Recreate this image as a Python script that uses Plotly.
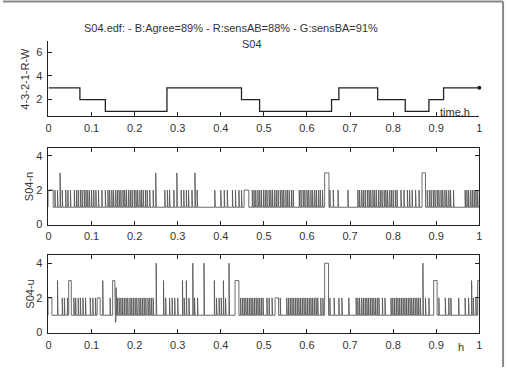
import plotly.graph_objects as go

# ---------------- data ----------------
# Top panel: hypnogram steps (start of each step, level)
hyp_x = [0.0, 0.073, 0.132, 0.275, 0.448, 0.490, 0.657, 0.674, 0.764, 0.828, 0.883, 0.917, 1.0]
hyp_y = [3, 2, 1, 3, 2, 1, 2, 3, 2, 1, 2, 3, 3]

# Panel S04-n : thin spikes by level, plus wider boxes (start, end, level)
n_spikes2 = [0.015, 0.021, 0.032, 0.040, 0.045, 0.051,
             0.060, 0.065, 0.069, 0.074, 0.078, 0.083, 0.087, 0.091, 0.095,
             0.100, 0.105, 0.110, 0.116, 0.124, 0.132,
             0.138, 0.142, 0.147, 0.151, 0.156, 0.160, 0.164, 0.168, 0.173, 0.177, 0.181,
             0.186, 0.190, 0.194, 0.199, 0.203, 0.207, 0.212, 0.216, 0.220, 0.225, 0.229,
             0.235, 0.243,
             0.270, 0.276, 0.281, 0.291, 0.308, 0.314, 0.320, 0.325, 0.333, 0.345,
             0.386, 0.400, 0.408, 0.415, 0.427, 0.434, 0.442, 0.448,
             0.473, 0.477, 0.481, 0.486, 0.490, 0.494, 0.499, 0.503, 0.507, 0.512, 0.516,
             0.520, 0.525, 0.529, 0.533, 0.538, 0.542, 0.546, 0.551, 0.555, 0.559, 0.564, 0.568,
             0.582, 0.586, 0.591, 0.595, 0.600, 0.604, 0.609, 0.613, 0.618, 0.622, 0.627, 0.631, 0.636,
             0.653, 0.661, 0.672, 0.695,
             0.718, 0.722, 0.727, 0.731, 0.735, 0.740, 0.744, 0.748, 0.753, 0.757, 0.761,
             0.766, 0.770, 0.774, 0.779, 0.783, 0.787, 0.792, 0.796, 0.800, 0.805, 0.809,
             0.818, 0.825, 0.833, 0.838, 0.844, 0.852, 0.860,
             0.879, 0.884, 0.888, 0.893, 0.897, 0.902, 0.906, 0.911, 0.915, 0.920, 0.924, 0.929, 0.933,
             0.940, 0.967, 0.971, 0.975, 0.980, 0.984, 0.988, 0.992, 0.996]
n_spikes3 = [0.027, 0.249, 0.298, 0.340]
n_boxes = [(0.0, 0.011, 2), (0.454, 0.465, 2), (0.641, 0.651, 3), (0.867, 0.875, 3)]

# Panel S04-u
u_spikes2 = [0.032, 0.037, 0.044, 0.059, 0.063, 0.069, 0.074, 0.080, 0.086, 0.097, 0.103, 0.109, 0.143,
             0.160, 0.164, 0.168, 0.172, 0.176, 0.180, 0.184, 0.189, 0.193, 0.197, 0.201, 0.205,
             0.210, 0.214, 0.218, 0.222, 0.226, 0.231, 0.235, 0.239, 0.243,
             0.272, 0.281, 0.287, 0.293, 0.300, 0.315, 0.326, 0.339, 0.346,
             0.390, 0.396, 0.401, 0.411,
             0.446, 0.450, 0.454, 0.458, 0.462, 0.466, 0.470, 0.474, 0.478, 0.482, 0.486, 0.490, 0.494, 0.498,
             0.507, 0.512, 0.519, 0.538,
             0.553, 0.557, 0.561, 0.565, 0.569, 0.573, 0.577, 0.581, 0.585, 0.589, 0.593, 0.597,
             0.601, 0.605, 0.609, 0.613, 0.617, 0.621, 0.625, 0.632, 0.637,
             0.653, 0.663, 0.674, 0.681, 0.697,
             0.714, 0.718, 0.722, 0.727, 0.731, 0.735, 0.739, 0.743, 0.747, 0.751, 0.755, 0.759, 0.763, 0.767,
             0.775, 0.781,
             0.795, 0.799, 0.803, 0.807, 0.811, 0.815, 0.819, 0.823, 0.827, 0.831, 0.835, 0.839,
             0.843, 0.847, 0.851, 0.855, 0.859, 0.863,
             0.875, 0.883, 0.906, 0.921, 0.929, 0.934, 0.952, 0.967, 0.975, 0.986, 0.992]
u_spikes3 = [0.021, 0.126, 0.267, 0.311, 0.320, 0.385, 0.406, 0.982]
u_spikes4 = [0.250, 0.335, 0.361, 0.419, 0.869]
u_boxes = [(0.0, 0.008, 2), (0.047, 0.053, 3), (0.113, 0.120, 2), (0.149, 0.154, 3),
           (0.1555, 0.1565, 0.6), (0.157, 0.158, 2.6),
           (0.433, 0.442, 3), (0.526, 0.534, 2), (0.641, 0.650, 4), (0.894, 0.902, 3), (0.996, 1.0, 3)]

x_ticks = [0, 0.1, 0.2, 0.3, 0.4, 0.5, 0.6, 0.7, 0.8, 0.9, 1]
x_ticklabels = ["0", "0.1", "0.2", "0.3", "0.4", "0.5", "0.6", "0.7", "0.8", "0.9", "1"]

title_text = "S04.edf: - B:Agree=89% - R:sensAB=88% - G:sensBA=91%"

# ---------------- build step paths ----------------
SPIKE_W = 0.0012


def build_path(spk2, spk3, spk4, boxes, base=1):
    events = [(p, p + SPIKE_W, 2) for p in spk2]
    events += [(p, p + SPIKE_W, 3) for p in spk3]
    events += [(p, p + SPIKE_W, 4) for p in spk4]
    events += list(boxes)
    events.sort(key=lambda e: e[0])
    xs, ys = [0.0], [base]
    for s, e, lv in events:
        xs += [s, s, e, e]
        ys += [base, lv, lv, base]
    xs.append(1.0)
    ys.append(base)
    return xs, ys


nx, ny = build_path(n_spikes2, n_spikes3, [], n_boxes)
ux, uy = build_path(u_spikes2, u_spikes3, u_spikes4, u_boxes)

W, H = 511, 372
FONT = "Liberation Sans, Arial, sans-serif"
TXT = "#333333"


def px(x):
    return x / W


def py(y):
    return 1 - y / H


fig = go.Figure()
fig.add_trace(go.Scatter(x=hyp_x, y=hyp_y, mode="lines", line=dict(shape="hv", color="#222222", width=1.3),
                         xaxis="x", yaxis="y", showlegend=False, hoverinfo="skip"))
fig.add_trace(go.Scatter(x=[hyp_x[-1]], y=[hyp_y[-1]], mode="markers",
                         marker=dict(color="#222222", size=4, symbol="circle"),
                         xaxis="x", yaxis="y", showlegend=False, hoverinfo="skip", cliponaxis=False))
fig.add_trace(go.Scatter(x=nx, y=ny, mode="lines", line=dict(color="#5a5a5a", width=0.9),
                         xaxis="x2", yaxis="y2", showlegend=False, hoverinfo="skip"))
fig.add_trace(go.Scatter(x=ux, y=uy, mode="lines", line=dict(color="#5a5a5a", width=0.9),
                         xaxis="x3", yaxis="y3", showlegend=False, hoverinfo="skip"))

xdom = [px(46), px(482)]
common_x = dict(range=[0, 1.0], tickmode="array", tickvals=x_ticks, ticktext=x_ticklabels,
                ticks="inside", ticklen=4, tickcolor="#222", showline=True, linecolor="#222",
                linewidth=1, showgrid=False, zeroline=False, domain=xdom, ticklabelstandoff=1,
                tickfont=dict(family=FONT, size=11, color=TXT))
common_y = dict(ticks="inside", ticklen=4, tickcolor="#222", showline=True, linecolor="#222",
                linewidth=1, showgrid=False, zeroline=False, ticklabelstandoff=3,
                tickfont=dict(family=FONT, size=11, color=TXT))

fig.update_layout(
    width=W, height=H, margin=dict(l=0, r=0, t=0, b=0),
    paper_bgcolor="white", plot_bgcolor="white",
    xaxis=dict(**common_x, anchor="y"),
    yaxis=dict(**common_y, domain=[py(118), py(42)], range=[0.58, 6.92],
               tickvals=[2, 4, 6], anchor="x"),
    xaxis2=dict(**common_x, anchor="y2", mirror="ticks"),
    yaxis2=dict(**common_y, domain=[py(228), py(150)], range=[-0.03, 4.45],
                tickvals=[0, 2, 4], anchor="x2", mirror="ticks"),
    xaxis3=dict(**common_x, anchor="y3", mirror="ticks"),
    yaxis3=dict(**common_y, domain=[py(338), py(258)], range=[-0.05, 4.5],
                tickvals=[0, 2, 4], anchor="x3", mirror="ticks"),
)

ann = [
    (title_text, 231, 28, 0),
    ("S04", 252, 45, 0),
    ("time.h", 457, 114, 0),
    ("h", 463, 352, 0),
    ("4-3-2-1-R-W", 22, 80, -90),
    ("S04-n", 27, 189, -90),
    ("S04-u", 27, 298, -90),
]
for t, x, y, ang in ann:
    fig.add_annotation(text=t, x=px(x), y=py(y), xref="paper", yref="paper",
                       xanchor="center", yanchor="middle", showarrow=False, textangle=ang,
                       font=dict(family=FONT, size=11, color=TXT))

# outer frame (top and right edges of the picture border)
fig.add_shape(type="line", xref="paper", yref="paper", x0=0, x1=px(506), y0=py(1.5), y1=py(1.5),
              line=dict(color="#888888", width=2))
fig.add_shape(type="line", xref="paper", yref="paper", x0=px(506), x1=px(506), y0=py(1.5), y1=0,
              line=dict(color="#888888", width=2))

fig.write_html("out.html")
